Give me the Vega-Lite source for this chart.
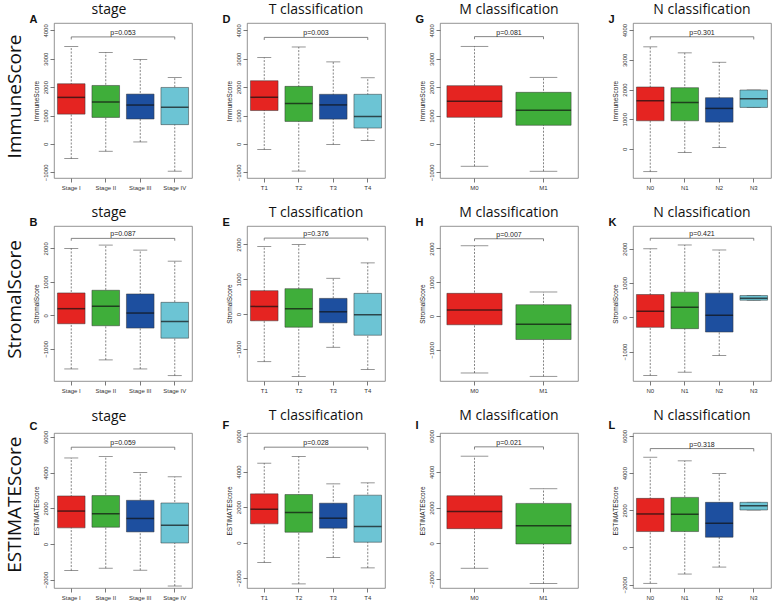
{
"$schema": "https://vega.github.io/schema/vega-lite/v6.json",
"padding": {"left": 5, "top": 2, "right": 0, "bottom": 0},
"background": "white",
"datasets": {
"boxes": [
{"panel":"A","group":"Stage I","min":-515,"q1":1050,"med":1640,"q3":2120,"max":3430},
{"panel":"A","group":"Stage II","min":-258,"q1":935,"med":1475,"q3":2060,"max":3220},
{"panel":"A","group":"Stage III","min":70,"q1":878,"med":1370,"q3":1756,"max":2975},
{"panel":"A","group":"Stage IV","min":-960,"q1":680,"med":1288,"q3":1990,"max":2342},
{"panel":"D","group":"T1","min":-198,"q1":1177,"med":1643,"q3":2226,"max":3042},
{"panel":"D","group":"T2","min":-956,"q1":793,"med":1422,"q3":2028,"max":3415},
{"panel":"D","group":"T3","min":-23,"q1":874,"med":1375,"q3":1748,"max":2890},
{"panel":"D","group":"T4","min":117,"q1":559,"med":967,"q3":1748,"max":2331},
{"panel":"G","group":"M0","min":-786,"q1":938,"med":1501,"q3":2053,"max":3437},
{"panel":"G","group":"M1","min":-962,"q1":657,"med":1185,"q3":1818,"max":2346},
{"panel":"J","group":"N0","min":-766,"q1":946,"med":1622,"q3":2085,"max":3437},
{"panel":"J","group":"N1","min":-124,"q1":946,"med":1566,"q3":2062,"max":3234},
{"panel":"J","group":"N2","min":45,"q1":901,"med":1363,"q3":1724,"max":2918},
{"panel":"J","group":"N3","min":1397,"q1":1397,"med":1690,"q3":1983,"max":1983},
{"panel":"B","group":"Stage I","min":-1600,"q1":-250,"med":200,"q3":670,"max":2000},
{"panel":"B","group":"Stage II","min":-1330,"q1":-310,"med":270,"q3":750,"max":2100},
{"panel":"B","group":"Stage III","min":-1600,"q1":-380,"med":70,"q3":640,"max":1950},
{"panel":"B","group":"Stage IV","min":-1800,"q1":-680,"med":-180,"q3":390,"max":1620},
{"panel":"E","group":"T1","min":-1365,"q1":-192,"med":221,"q3":673,"max":1942},
{"panel":"E","group":"T2","min":-1788,"q1":-375,"med":154,"q3":731,"max":2000},
{"panel":"E","group":"T3","min":-952,"q1":-250,"med":67,"q3":452,"max":1029},
{"panel":"E","group":"T4","min":-1587,"q1":-606,"med":-19,"q3":596,"max":1471},
{"panel":"H","group":"M0","min":-1683,"q1":-257,"med":178,"q3":673,"max":2080},
{"panel":"H","group":"M1","min":-1782,"q1":-693,"med":-238,"q3":337,"max":713},
{"panel":"K","group":"N0","min":-1700,"q1":-293,"med":176,"q3":665,"max":2000},
{"panel":"K","group":"N1","min":-1603,"q1":-332,"med":293,"q3":733,"max":2111},
{"panel":"K","group":"N2","min":-1114,"q1":-430,"med":59,"q3":704,"max":1965},
{"panel":"K","group":"N3","min":499,"q1":499,"med":557,"q3":635,"max":635},
{"panel":"C","group":"Stage I","min":-1488,"q1":904,"med":1846,"q3":2693,"max":4821},
{"panel":"C","group":"Stage II","min":-1356,"q1":942,"med":1695,"q3":2712,"max":4896},
{"panel":"C","group":"Stage III","min":-1469,"q1":678,"med":1431,"q3":2448,"max":4011},
{"panel":"C","group":"Stage IV","min":-2354,"q1":56,"med":1055,"q3":2298,"max":3766},
{"panel":"F","group":"T1","min":-1127,"q1":1052,"med":1878,"q3":2742,"max":4470},
{"panel":"F","group":"T2","min":-2329,"q1":582,"med":1690,"q3":2704,"max":4845},
{"panel":"F","group":"T3","min":-845,"q1":808,"med":1371,"q3":2216,"max":3305},
{"panel":"F","group":"T4","min":-1427,"q1":19,"med":901,"q3":2667,"max":3362},
{"panel":"I","group":"M0","min":-1395,"q1":819,"med":1786,"q3":2660,"max":4874},
{"panel":"I","group":"M1","min":-2251,"q1":-37,"med":986,"q3":2233,"max":3051},
{"panel":"L","group":"N0","min":-1929,"q1":857,"med":1804,"q3":2643,"max":4857},
{"panel":"L","group":"N1","min":-1429,"q1":857,"med":1786,"q3":2696,"max":4661},
{"panel":"L","group":"N2","min":-1054,"q1":554,"med":1304,"q3":2429,"max":3982},
{"panel":"L","group":"N3","min":2018,"q1":2018,"med":2250,"q3":2429,"max":2429}
],
"brackets": [
{"panel":"A","k":1,"group":"Stage I","y":3680},{"panel":"A","k":2,"group":"Stage I","y":3770},{"panel":"A","k":3,"group":"Stage IV","y":3770},{"panel":"A","k":4,"group":"Stage IV","y":3680},
{"panel":"D","k":1,"group":"T1","y":3663},{"panel":"D","k":2,"group":"T1","y":3753},{"panel":"D","k":3,"group":"T4","y":3753},{"panel":"D","k":4,"group":"T4","y":3663},
{"panel":"G","k":1,"group":"M0","y":3690},{"panel":"G","k":2,"group":"M0","y":3780},{"panel":"G","k":3,"group":"M1","y":3780},{"panel":"G","k":4,"group":"M1","y":3690},
{"panel":"J","k":1,"group":"N0","y":3685},{"panel":"J","k":2,"group":"N0","y":3775},{"panel":"J","k":3,"group":"N3","y":3775},{"panel":"J","k":4,"group":"N3","y":3685},
{"panel":"B","k":1,"group":"Stage I","y":2230},{"panel":"B","k":2,"group":"Stage I","y":2300},{"panel":"B","k":3,"group":"Stage IV","y":2300},{"panel":"B","k":4,"group":"Stage IV","y":2230},
{"panel":"E","k":1,"group":"T1","y":2113},{"panel":"E","k":2,"group":"T1","y":2183},{"panel":"E","k":3,"group":"T4","y":2183},{"panel":"E","k":4,"group":"T4","y":2113},
{"panel":"H","k":1,"group":"M0","y":2217},{"panel":"H","k":2,"group":"M0","y":2287},{"panel":"H","k":3,"group":"M1","y":2287},{"panel":"H","k":4,"group":"M1","y":2217},
{"panel":"K","k":1,"group":"N0","y":2237},{"panel":"K","k":2,"group":"N0","y":2307},{"panel":"K","k":3,"group":"N3","y":2307},{"panel":"K","k":4,"group":"N3","y":2237},
{"panel":"C","k":1,"group":"Stage I","y":5274},{"panel":"C","k":2,"group":"Stage I","y":5424},{"panel":"C","k":3,"group":"Stage IV","y":5424},{"panel":"C","k":4,"group":"Stage IV","y":5274},
{"panel":"F","k":1,"group":"T1","y":5221},{"panel":"F","k":2,"group":"T1","y":5371},{"panel":"F","k":3,"group":"T4","y":5371},{"panel":"F","k":4,"group":"T4","y":5221},
{"panel":"I","k":1,"group":"M0","y":5245},{"panel":"I","k":2,"group":"M0","y":5395},{"panel":"I","k":3,"group":"M1","y":5395},{"panel":"I","k":4,"group":"M1","y":5245},
{"panel":"L","k":1,"group":"N0","y":5171},{"panel":"L","k":2,"group":"N0","y":5321},{"panel":"L","k":3,"group":"N3","y":5321},{"panel":"L","k":4,"group":"N3","y":5171}
],
"pvals": [
{"panel":"A","g":"Stage II","p":"p=0.053","b":3770},{"panel":"D","g":"T2","p":"p=0.003","b":3753},{"panel":"G","g":"M0","p":"p=0.081","b":3780},{"panel":"J","g":"N1","p":"p=0.301","b":3775},
{"panel":"B","g":"Stage II","p":"p=0.087","b":2300},{"panel":"E","g":"T2","p":"p=0.376","b":2183},{"panel":"H","g":"M0","p":"p=0.007","b":2287},{"panel":"K","g":"N1","p":"p=0.421","b":2307},
{"panel":"C","g":"Stage II","p":"p=0.059","b":5424},{"panel":"F","g":"T2","p":"p=0.028","b":5371},{"panel":"I","g":"M0","p":"p=0.021","b":5395},{"panel":"L","g":"N1","p":"p=0.318","b":5321}
]
},
"spacing": 14,
"vconcat": [
{"title": {"text": "ImmuneScore", "orient": "left", "fontSize": 19, "font": "Open Sans", "anchor": "middle", "offset": 5},
 "spacing": 29,
 "hconcat": [
{"title": {"text": "A", "anchor": "start", "frame": "bounds", "font": "Liberation Sans", "fontSize": 11, "fontWeight": "bold", "dy": 26, "dx": -3},
 "vconcat": [{"title": {"text": "stage", "offset": 6, "dx": -14}, "width": 138, "height": 155,
  "encoding": {"x": {"field": "group", "type": "nominal", "title": null, "scale": {"domain": ["Stage I","Stage II","Stage III","Stage IV"], "paddingInner": 0.2, "paddingOuter": 0.1}}},
  "layer": [
   {"data": {"name": "boxes"}, "transform": [{"filter": "datum.panel === 'A'"}], "layer": [
    {"mark": {"type": "rule", "strokeDash": [2, 1.5], "color": "#666", "strokeWidth": 0.8}, "encoding": {"y": {"field": "min", "type": "quantitative", "title": "ImmuneScore", "scale": {"domain": [-1200, 4260], "nice": false, "zero": false}, "axis": {"values": [-1000,0,1000,2000,3000,4000], "format": "d"}}, "y2": {"field": "max"}}},
    {"mark": {"type": "tick", "size": 14, "thickness": 0.8, "color": "#444"}, "encoding": {"y": {"field": "min", "type": "quantitative", "title": "ImmuneScore", "scale": {"domain": [-1200, 4260], "nice": false, "zero": false}, "axis": {"values": [-1000,0,1000,2000,3000,4000], "format": "d"}}}},
    {"mark": {"type": "tick", "size": 14, "thickness": 0.8, "color": "#444"}, "encoding": {"y": {"field": "max", "type": "quantitative", "title": "ImmuneScore", "scale": {"domain": [-1200, 4260], "nice": false, "zero": false}, "axis": {"values": [-1000,0,1000,2000,3000,4000], "format": "d"}}}},
    {"mark": {"type": "bar", "stroke": "#333", "strokeWidth": 0.5}, "encoding": {"y": {"field": "q1", "type": "quantitative", "title": "ImmuneScore", "scale": {"domain": [-1200, 4260], "nice": false, "zero": false}, "axis": {"values": [-1000,0,1000,2000,3000,4000], "format": "d"}}, "y2": {"field": "q3"}, "color": {"field": "group", "type": "nominal", "legend": null, "scale": {"domain": ["Stage I","Stage II","Stage III","Stage IV","T1","T2","T3","T4","M0","M1","N0","N1","N2","N3"], "range": ["#E52421","#3FAE3A","#1D4F9F","#6CC4D4","#E52421","#3FAE3A","#1D4F9F","#6CC4D4","#E52421","#3FAE3A","#E52421","#3FAE3A","#1D4F9F","#6CC4D4"]}}}},
    {"mark": {"type": "tick", "size": 27.6, "thickness": 1.5, "color": "#111"}, "encoding": {"y": {"field": "med", "type": "quantitative", "title": "ImmuneScore", "scale": {"domain": [-1200, 4260], "nice": false, "zero": false}, "axis": {"values": [-1000,0,1000,2000,3000,4000], "format": "d"}}}}
   ]},
   {"data": {"name": "brackets"}, "transform": [{"filter": "datum.panel === 'A'"}], "mark": {"type": "line", "color": "#666", "strokeWidth": 0.8}, "encoding": {"y": {"field": "y", "type": "quantitative", "title": "ImmuneScore", "scale": {"domain": [-1200, 4260], "nice": false, "zero": false}, "axis": {"values": [-1000,0,1000,2000,3000,4000], "format": "d"}}, "order": {"field": "k", "type": "quantitative"}}},
   {"data": {"name": "pvals"}, "transform": [{"filter": "datum.panel === 'A'"}], "mark": {"type": "text", "fontSize": 7, "baseline": "bottom", "dy": -1, "color": "#222", "font": "Liberation Sans"}, "encoding": {"x": {"field": "g", "type": "nominal", "bandPosition": 1.125}, "y": {"field": "b", "type": "quantitative", "title": "ImmuneScore", "scale": {"domain": [-1200, 4260], "nice": false, "zero": false}, "axis": {"values": [-1000,0,1000,2000,3000,4000], "format": "d"}}, "text": {"field": "p", "type": "nominal"}}}
  ]}]},
{"title": {"text": "D", "anchor": "start", "frame": "bounds", "font": "Liberation Sans", "fontSize": 11, "fontWeight": "bold", "dy": 26, "dx": -3},
 "vconcat": [{"title": {"text": "T classification", "offset": 6}, "width": 138, "height": 155,
  "encoding": {"x": {"field": "group", "type": "nominal", "title": null, "scale": {"domain": ["T1","T2","T3","T4"], "paddingInner": 0.2, "paddingOuter": 0.1}}},
  "layer": [
   {"data": {"name": "boxes"}, "transform": [{"filter": "datum.panel === 'D'"}], "layer": [
    {"mark": {"type": "rule", "strokeDash": [2, 1.5], "color": "#666", "strokeWidth": 0.8}, "encoding": {"y": {"field": "min", "type": "quantitative", "title": "ImmuneScore", "scale": {"domain": [-1200, 4260], "nice": false, "zero": false}, "axis": {"values": [-1000,0,1000,2000,3000,4000], "format": "d"}}, "y2": {"field": "max"}}},
    {"mark": {"type": "tick", "size": 14, "thickness": 0.8, "color": "#444"}, "encoding": {"y": {"field": "min", "type": "quantitative", "title": "ImmuneScore", "scale": {"domain": [-1200, 4260], "nice": false, "zero": false}, "axis": {"values": [-1000,0,1000,2000,3000,4000], "format": "d"}}}},
    {"mark": {"type": "tick", "size": 14, "thickness": 0.8, "color": "#444"}, "encoding": {"y": {"field": "max", "type": "quantitative", "title": "ImmuneScore", "scale": {"domain": [-1200, 4260], "nice": false, "zero": false}, "axis": {"values": [-1000,0,1000,2000,3000,4000], "format": "d"}}}},
    {"mark": {"type": "bar", "stroke": "#333", "strokeWidth": 0.5}, "encoding": {"y": {"field": "q1", "type": "quantitative", "title": "ImmuneScore", "scale": {"domain": [-1200, 4260], "nice": false, "zero": false}, "axis": {"values": [-1000,0,1000,2000,3000,4000], "format": "d"}}, "y2": {"field": "q3"}, "color": {"field": "group", "type": "nominal", "legend": null, "scale": {"domain": ["Stage I","Stage II","Stage III","Stage IV","T1","T2","T3","T4","M0","M1","N0","N1","N2","N3"], "range": ["#E52421","#3FAE3A","#1D4F9F","#6CC4D4","#E52421","#3FAE3A","#1D4F9F","#6CC4D4","#E52421","#3FAE3A","#E52421","#3FAE3A","#1D4F9F","#6CC4D4"]}}}},
    {"mark": {"type": "tick", "size": 27.6, "thickness": 1.5, "color": "#111"}, "encoding": {"y": {"field": "med", "type": "quantitative", "title": "ImmuneScore", "scale": {"domain": [-1200, 4260], "nice": false, "zero": false}, "axis": {"values": [-1000,0,1000,2000,3000,4000], "format": "d"}}}}
   ]},
   {"data": {"name": "brackets"}, "transform": [{"filter": "datum.panel === 'D'"}], "mark": {"type": "line", "color": "#666", "strokeWidth": 0.8}, "encoding": {"y": {"field": "y", "type": "quantitative", "title": "ImmuneScore", "scale": {"domain": [-1200, 4260], "nice": false, "zero": false}, "axis": {"values": [-1000,0,1000,2000,3000,4000], "format": "d"}}, "order": {"field": "k", "type": "quantitative"}}},
   {"data": {"name": "pvals"}, "transform": [{"filter": "datum.panel === 'D'"}], "mark": {"type": "text", "fontSize": 7, "baseline": "bottom", "dy": -1, "color": "#222", "font": "Liberation Sans"}, "encoding": {"x": {"field": "g", "type": "nominal", "bandPosition": 1.125}, "y": {"field": "b", "type": "quantitative", "title": "ImmuneScore", "scale": {"domain": [-1200, 4260], "nice": false, "zero": false}, "axis": {"values": [-1000,0,1000,2000,3000,4000], "format": "d"}}, "text": {"field": "p", "type": "nominal"}}}
  ]}]},
{"title": {"text": "G", "anchor": "start", "frame": "bounds", "font": "Liberation Sans", "fontSize": 11, "fontWeight": "bold", "dy": 26, "dx": -3},
 "vconcat": [{"title": {"text": "M classification", "offset": 6}, "width": 138, "height": 155,
  "encoding": {"x": {"field": "group", "type": "nominal", "title": null, "scale": {"domain": ["M0","M1"], "paddingInner": 0.2, "paddingOuter": 0.1}}},
  "layer": [
   {"data": {"name": "boxes"}, "transform": [{"filter": "datum.panel === 'G'"}], "layer": [
    {"mark": {"type": "rule", "strokeDash": [2, 1.5], "color": "#666", "strokeWidth": 0.8}, "encoding": {"y": {"field": "min", "type": "quantitative", "title": "ImmuneScore", "scale": {"domain": [-1200, 4260], "nice": false, "zero": false}, "axis": {"values": [-1000,0,1000,2000,3000,4000], "format": "d"}}, "y2": {"field": "max"}}},
    {"mark": {"type": "tick", "size": 27.6, "thickness": 0.8, "color": "#444"}, "encoding": {"y": {"field": "min", "type": "quantitative", "title": "ImmuneScore", "scale": {"domain": [-1200, 4260], "nice": false, "zero": false}, "axis": {"values": [-1000,0,1000,2000,3000,4000], "format": "d"}}}},
    {"mark": {"type": "tick", "size": 27.6, "thickness": 0.8, "color": "#444"}, "encoding": {"y": {"field": "max", "type": "quantitative", "title": "ImmuneScore", "scale": {"domain": [-1200, 4260], "nice": false, "zero": false}, "axis": {"values": [-1000,0,1000,2000,3000,4000], "format": "d"}}}},
    {"mark": {"type": "bar", "stroke": "#333", "strokeWidth": 0.5}, "encoding": {"y": {"field": "q1", "type": "quantitative", "title": "ImmuneScore", "scale": {"domain": [-1200, 4260], "nice": false, "zero": false}, "axis": {"values": [-1000,0,1000,2000,3000,4000], "format": "d"}}, "y2": {"field": "q3"}, "color": {"field": "group", "type": "nominal", "legend": null, "scale": {"domain": ["Stage I","Stage II","Stage III","Stage IV","T1","T2","T3","T4","M0","M1","N0","N1","N2","N3"], "range": ["#E52421","#3FAE3A","#1D4F9F","#6CC4D4","#E52421","#3FAE3A","#1D4F9F","#6CC4D4","#E52421","#3FAE3A","#E52421","#3FAE3A","#1D4F9F","#6CC4D4"]}}}},
    {"mark": {"type": "tick", "size": 55.2, "thickness": 1.5, "color": "#111"}, "encoding": {"y": {"field": "med", "type": "quantitative", "title": "ImmuneScore", "scale": {"domain": [-1200, 4260], "nice": false, "zero": false}, "axis": {"values": [-1000,0,1000,2000,3000,4000], "format": "d"}}}}
   ]},
   {"data": {"name": "brackets"}, "transform": [{"filter": "datum.panel === 'G'"}], "mark": {"type": "line", "color": "#666", "strokeWidth": 0.8}, "encoding": {"y": {"field": "y", "type": "quantitative", "title": "ImmuneScore", "scale": {"domain": [-1200, 4260], "nice": false, "zero": false}, "axis": {"values": [-1000,0,1000,2000,3000,4000], "format": "d"}}, "order": {"field": "k", "type": "quantitative"}}},
   {"data": {"name": "pvals"}, "transform": [{"filter": "datum.panel === 'G'"}], "mark": {"type": "text", "fontSize": 7, "baseline": "bottom", "dy": -1, "color": "#222", "font": "Liberation Sans"}, "encoding": {"x": {"field": "g", "type": "nominal", "bandPosition": 1.125}, "y": {"field": "b", "type": "quantitative", "title": "ImmuneScore", "scale": {"domain": [-1200, 4260], "nice": false, "zero": false}, "axis": {"values": [-1000,0,1000,2000,3000,4000], "format": "d"}}, "text": {"field": "p", "type": "nominal"}}}
  ]}]},
{"title": {"text": "J", "anchor": "start", "frame": "bounds", "font": "Liberation Sans", "fontSize": 11, "fontWeight": "bold", "dy": 26, "dx": -3},
 "vconcat": [{"title": {"text": "N classification", "offset": 6}, "width": 138, "height": 155,
  "encoding": {"x": {"field": "group", "type": "nominal", "title": null, "scale": {"domain": ["N0","N1","N2","N3"], "paddingInner": 0.2, "paddingOuter": 0.1}}},
  "layer": [
   {"data": {"name": "boxes"}, "transform": [{"filter": "datum.panel === 'J'"}], "layer": [
    {"mark": {"type": "rule", "strokeDash": [2, 1.5], "color": "#666", "strokeWidth": 0.8}, "encoding": {"y": {"field": "min", "type": "quantitative", "title": "ImmuneScore", "scale": {"domain": [-980, 4240], "nice": false, "zero": false}, "axis": {"values": [0,1000,2000,3000,4000], "format": "d"}}, "y2": {"field": "max"}}},
    {"mark": {"type": "tick", "size": 14, "thickness": 0.8, "color": "#444"}, "encoding": {"y": {"field": "min", "type": "quantitative", "title": "ImmuneScore", "scale": {"domain": [-980, 4240], "nice": false, "zero": false}, "axis": {"values": [0,1000,2000,3000,4000], "format": "d"}}}},
    {"mark": {"type": "tick", "size": 14, "thickness": 0.8, "color": "#444"}, "encoding": {"y": {"field": "max", "type": "quantitative", "title": "ImmuneScore", "scale": {"domain": [-980, 4240], "nice": false, "zero": false}, "axis": {"values": [0,1000,2000,3000,4000], "format": "d"}}}},
    {"mark": {"type": "bar", "stroke": "#333", "strokeWidth": 0.5}, "encoding": {"y": {"field": "q1", "type": "quantitative", "title": "ImmuneScore", "scale": {"domain": [-980, 4240], "nice": false, "zero": false}, "axis": {"values": [0,1000,2000,3000,4000], "format": "d"}}, "y2": {"field": "q3"}, "color": {"field": "group", "type": "nominal", "legend": null, "scale": {"domain": ["Stage I","Stage II","Stage III","Stage IV","T1","T2","T3","T4","M0","M1","N0","N1","N2","N3"], "range": ["#E52421","#3FAE3A","#1D4F9F","#6CC4D4","#E52421","#3FAE3A","#1D4F9F","#6CC4D4","#E52421","#3FAE3A","#E52421","#3FAE3A","#1D4F9F","#6CC4D4"]}}}},
    {"mark": {"type": "tick", "size": 27.6, "thickness": 1.5, "color": "#111"}, "encoding": {"y": {"field": "med", "type": "quantitative", "title": "ImmuneScore", "scale": {"domain": [-980, 4240], "nice": false, "zero": false}, "axis": {"values": [0,1000,2000,3000,4000], "format": "d"}}}}
   ]},
   {"data": {"name": "brackets"}, "transform": [{"filter": "datum.panel === 'J'"}], "mark": {"type": "line", "color": "#666", "strokeWidth": 0.8}, "encoding": {"y": {"field": "y", "type": "quantitative", "title": "ImmuneScore", "scale": {"domain": [-980, 4240], "nice": false, "zero": false}, "axis": {"values": [0,1000,2000,3000,4000], "format": "d"}}, "order": {"field": "k", "type": "quantitative"}}},
   {"data": {"name": "pvals"}, "transform": [{"filter": "datum.panel === 'J'"}], "mark": {"type": "text", "fontSize": 7, "baseline": "bottom", "dy": -1, "color": "#222", "font": "Liberation Sans"}, "encoding": {"x": {"field": "g", "type": "nominal", "bandPosition": 1.125}, "y": {"field": "b", "type": "quantitative", "title": "ImmuneScore", "scale": {"domain": [-980, 4240], "nice": false, "zero": false}, "axis": {"values": [0,1000,2000,3000,4000], "format": "d"}}, "text": {"field": "p", "type": "nominal"}}}
  ]}]}
 ]},
{"title": {"text": "StromalScore", "orient": "left", "fontSize": 19, "font": "Open Sans", "anchor": "middle", "offset": 5},
 "spacing": 29,
 "hconcat": [
{"title": {"text": "B", "anchor": "start", "frame": "bounds", "font": "Liberation Sans", "fontSize": 11, "fontWeight": "bold", "dy": 26, "dx": -3},
 "vconcat": [{"title": {"text": "stage", "offset": 6, "dx": -14}, "width": 138, "height": 155,
  "encoding": {"x": {"field": "group", "type": "nominal", "title": null, "scale": {"domain": ["Stage I","Stage II","Stage III","Stage IV"], "paddingInner": 0.2, "paddingOuter": 0.1}}},
  "layer": [
   {"data": {"name": "boxes"}, "transform": [{"filter": "datum.panel === 'B'"}], "layer": [
    {"mark": {"type": "rule", "strokeDash": [2, 1.5], "color": "#666", "strokeWidth": 0.8}, "encoding": {"y": {"field": "min", "type": "quantitative", "title": "StromalScore", "scale": {"domain": [-1960, 2670], "nice": false, "zero": false}, "axis": {"values": [-1000,0,1000,2000], "format": "d"}}, "y2": {"field": "max"}}},
    {"mark": {"type": "tick", "size": 14, "thickness": 0.8, "color": "#444"}, "encoding": {"y": {"field": "min", "type": "quantitative", "title": "StromalScore", "scale": {"domain": [-1960, 2670], "nice": false, "zero": false}, "axis": {"values": [-1000,0,1000,2000], "format": "d"}}}},
    {"mark": {"type": "tick", "size": 14, "thickness": 0.8, "color": "#444"}, "encoding": {"y": {"field": "max", "type": "quantitative", "title": "StromalScore", "scale": {"domain": [-1960, 2670], "nice": false, "zero": false}, "axis": {"values": [-1000,0,1000,2000], "format": "d"}}}},
    {"mark": {"type": "bar", "stroke": "#333", "strokeWidth": 0.5}, "encoding": {"y": {"field": "q1", "type": "quantitative", "title": "StromalScore", "scale": {"domain": [-1960, 2670], "nice": false, "zero": false}, "axis": {"values": [-1000,0,1000,2000], "format": "d"}}, "y2": {"field": "q3"}, "color": {"field": "group", "type": "nominal", "legend": null, "scale": {"domain": ["Stage I","Stage II","Stage III","Stage IV","T1","T2","T3","T4","M0","M1","N0","N1","N2","N3"], "range": ["#E52421","#3FAE3A","#1D4F9F","#6CC4D4","#E52421","#3FAE3A","#1D4F9F","#6CC4D4","#E52421","#3FAE3A","#E52421","#3FAE3A","#1D4F9F","#6CC4D4"]}}}},
    {"mark": {"type": "tick", "size": 27.6, "thickness": 1.5, "color": "#111"}, "encoding": {"y": {"field": "med", "type": "quantitative", "title": "StromalScore", "scale": {"domain": [-1960, 2670], "nice": false, "zero": false}, "axis": {"values": [-1000,0,1000,2000], "format": "d"}}}}
   ]},
   {"data": {"name": "brackets"}, "transform": [{"filter": "datum.panel === 'B'"}], "mark": {"type": "line", "color": "#666", "strokeWidth": 0.8}, "encoding": {"y": {"field": "y", "type": "quantitative", "title": "StromalScore", "scale": {"domain": [-1960, 2670], "nice": false, "zero": false}, "axis": {"values": [-1000,0,1000,2000], "format": "d"}}, "order": {"field": "k", "type": "quantitative"}}},
   {"data": {"name": "pvals"}, "transform": [{"filter": "datum.panel === 'B'"}], "mark": {"type": "text", "fontSize": 7, "baseline": "bottom", "dy": -1, "color": "#222", "font": "Liberation Sans"}, "encoding": {"x": {"field": "g", "type": "nominal", "bandPosition": 1.125}, "y": {"field": "b", "type": "quantitative", "title": "StromalScore", "scale": {"domain": [-1960, 2670], "nice": false, "zero": false}, "axis": {"values": [-1000,0,1000,2000], "format": "d"}}, "text": {"field": "p", "type": "nominal"}}}
  ]}]},
{"title": {"text": "E", "anchor": "start", "frame": "bounds", "font": "Liberation Sans", "fontSize": 11, "fontWeight": "bold", "dy": 26, "dx": -3},
 "vconcat": [{"title": {"text": "T classification", "offset": 6}, "width": 138, "height": 155,
  "encoding": {"x": {"field": "group", "type": "nominal", "title": null, "scale": {"domain": ["T1","T2","T3","T4"], "paddingInner": 0.2, "paddingOuter": 0.1}}},
  "layer": [
   {"data": {"name": "boxes"}, "transform": [{"filter": "datum.panel === 'E'"}], "layer": [
    {"mark": {"type": "rule", "strokeDash": [2, 1.5], "color": "#666", "strokeWidth": 0.8}, "encoding": {"y": {"field": "min", "type": "quantitative", "title": "StromalScore", "scale": {"domain": [-1920, 2530], "nice": false, "zero": false}, "axis": {"values": [-1000,0,1000,2000], "format": "d"}}, "y2": {"field": "max"}}},
    {"mark": {"type": "tick", "size": 14, "thickness": 0.8, "color": "#444"}, "encoding": {"y": {"field": "min", "type": "quantitative", "title": "StromalScore", "scale": {"domain": [-1920, 2530], "nice": false, "zero": false}, "axis": {"values": [-1000,0,1000,2000], "format": "d"}}}},
    {"mark": {"type": "tick", "size": 14, "thickness": 0.8, "color": "#444"}, "encoding": {"y": {"field": "max", "type": "quantitative", "title": "StromalScore", "scale": {"domain": [-1920, 2530], "nice": false, "zero": false}, "axis": {"values": [-1000,0,1000,2000], "format": "d"}}}},
    {"mark": {"type": "bar", "stroke": "#333", "strokeWidth": 0.5}, "encoding": {"y": {"field": "q1", "type": "quantitative", "title": "StromalScore", "scale": {"domain": [-1920, 2530], "nice": false, "zero": false}, "axis": {"values": [-1000,0,1000,2000], "format": "d"}}, "y2": {"field": "q3"}, "color": {"field": "group", "type": "nominal", "legend": null, "scale": {"domain": ["Stage I","Stage II","Stage III","Stage IV","T1","T2","T3","T4","M0","M1","N0","N1","N2","N3"], "range": ["#E52421","#3FAE3A","#1D4F9F","#6CC4D4","#E52421","#3FAE3A","#1D4F9F","#6CC4D4","#E52421","#3FAE3A","#E52421","#3FAE3A","#1D4F9F","#6CC4D4"]}}}},
    {"mark": {"type": "tick", "size": 27.6, "thickness": 1.5, "color": "#111"}, "encoding": {"y": {"field": "med", "type": "quantitative", "title": "StromalScore", "scale": {"domain": [-1920, 2530], "nice": false, "zero": false}, "axis": {"values": [-1000,0,1000,2000], "format": "d"}}}}
   ]},
   {"data": {"name": "brackets"}, "transform": [{"filter": "datum.panel === 'E'"}], "mark": {"type": "line", "color": "#666", "strokeWidth": 0.8}, "encoding": {"y": {"field": "y", "type": "quantitative", "title": "StromalScore", "scale": {"domain": [-1920, 2530], "nice": false, "zero": false}, "axis": {"values": [-1000,0,1000,2000], "format": "d"}}, "order": {"field": "k", "type": "quantitative"}}},
   {"data": {"name": "pvals"}, "transform": [{"filter": "datum.panel === 'E'"}], "mark": {"type": "text", "fontSize": 7, "baseline": "bottom", "dy": -1, "color": "#222", "font": "Liberation Sans"}, "encoding": {"x": {"field": "g", "type": "nominal", "bandPosition": 1.125}, "y": {"field": "b", "type": "quantitative", "title": "StromalScore", "scale": {"domain": [-1920, 2530], "nice": false, "zero": false}, "axis": {"values": [-1000,0,1000,2000], "format": "d"}}, "text": {"field": "p", "type": "nominal"}}}
  ]}]},
{"title": {"text": "H", "anchor": "start", "frame": "bounds", "font": "Liberation Sans", "fontSize": 11, "fontWeight": "bold", "dy": 26, "dx": -3},
 "vconcat": [{"title": {"text": "M classification", "offset": 6}, "width": 138, "height": 155,
  "encoding": {"x": {"field": "group", "type": "nominal", "title": null, "scale": {"domain": ["M0","M1"], "paddingInner": 0.2, "paddingOuter": 0.1}}},
  "layer": [
   {"data": {"name": "boxes"}, "transform": [{"filter": "datum.panel === 'H'"}], "layer": [
    {"mark": {"type": "rule", "strokeDash": [2, 1.5], "color": "#666", "strokeWidth": 0.8}, "encoding": {"y": {"field": "min", "type": "quantitative", "title": "StromalScore", "scale": {"domain": [-1920, 2665], "nice": false, "zero": false}, "axis": {"values": [-1000,0,1000,2000], "format": "d"}}, "y2": {"field": "max"}}},
    {"mark": {"type": "tick", "size": 27.6, "thickness": 0.8, "color": "#444"}, "encoding": {"y": {"field": "min", "type": "quantitative", "title": "StromalScore", "scale": {"domain": [-1920, 2665], "nice": false, "zero": false}, "axis": {"values": [-1000,0,1000,2000], "format": "d"}}}},
    {"mark": {"type": "tick", "size": 27.6, "thickness": 0.8, "color": "#444"}, "encoding": {"y": {"field": "max", "type": "quantitative", "title": "StromalScore", "scale": {"domain": [-1920, 2665], "nice": false, "zero": false}, "axis": {"values": [-1000,0,1000,2000], "format": "d"}}}},
    {"mark": {"type": "bar", "stroke": "#333", "strokeWidth": 0.5}, "encoding": {"y": {"field": "q1", "type": "quantitative", "title": "StromalScore", "scale": {"domain": [-1920, 2665], "nice": false, "zero": false}, "axis": {"values": [-1000,0,1000,2000], "format": "d"}}, "y2": {"field": "q3"}, "color": {"field": "group", "type": "nominal", "legend": null, "scale": {"domain": ["Stage I","Stage II","Stage III","Stage IV","T1","T2","T3","T4","M0","M1","N0","N1","N2","N3"], "range": ["#E52421","#3FAE3A","#1D4F9F","#6CC4D4","#E52421","#3FAE3A","#1D4F9F","#6CC4D4","#E52421","#3FAE3A","#E52421","#3FAE3A","#1D4F9F","#6CC4D4"]}}}},
    {"mark": {"type": "tick", "size": 55.2, "thickness": 1.5, "color": "#111"}, "encoding": {"y": {"field": "med", "type": "quantitative", "title": "StromalScore", "scale": {"domain": [-1920, 2665], "nice": false, "zero": false}, "axis": {"values": [-1000,0,1000,2000], "format": "d"}}}}
   ]},
   {"data": {"name": "brackets"}, "transform": [{"filter": "datum.panel === 'H'"}], "mark": {"type": "line", "color": "#666", "strokeWidth": 0.8}, "encoding": {"y": {"field": "y", "type": "quantitative", "title": "StromalScore", "scale": {"domain": [-1920, 2665], "nice": false, "zero": false}, "axis": {"values": [-1000,0,1000,2000], "format": "d"}}, "order": {"field": "k", "type": "quantitative"}}},
   {"data": {"name": "pvals"}, "transform": [{"filter": "datum.panel === 'H'"}], "mark": {"type": "text", "fontSize": 7, "baseline": "bottom", "dy": -1, "color": "#222", "font": "Liberation Sans"}, "encoding": {"x": {"field": "g", "type": "nominal", "bandPosition": 1.125}, "y": {"field": "b", "type": "quantitative", "title": "StromalScore", "scale": {"domain": [-1920, 2665], "nice": false, "zero": false}, "axis": {"values": [-1000,0,1000,2000], "format": "d"}}, "text": {"field": "p", "type": "nominal"}}}
  ]}]},
{"title": {"text": "K", "anchor": "start", "frame": "bounds", "font": "Liberation Sans", "fontSize": 11, "fontWeight": "bold", "dy": 26, "dx": -3},
 "vconcat": [{"title": {"text": "N classification", "offset": 6}, "width": 138, "height": 155,
  "encoding": {"x": {"field": "group", "type": "nominal", "title": null, "scale": {"domain": ["N0","N1","N2","N3"], "paddingInner": 0.2, "paddingOuter": 0.1}}},
  "layer": [
   {"data": {"name": "boxes"}, "transform": [{"filter": "datum.panel === 'K'"}], "layer": [
    {"mark": {"type": "rule", "strokeDash": [2, 1.5], "color": "#666", "strokeWidth": 0.8}, "encoding": {"y": {"field": "min", "type": "quantitative", "title": "StromalScore", "scale": {"domain": [-1860, 2665], "nice": false, "zero": false}, "axis": {"values": [-1000,0,1000,2000], "format": "d"}}, "y2": {"field": "max"}}},
    {"mark": {"type": "tick", "size": 14, "thickness": 0.8, "color": "#444"}, "encoding": {"y": {"field": "min", "type": "quantitative", "title": "StromalScore", "scale": {"domain": [-1860, 2665], "nice": false, "zero": false}, "axis": {"values": [-1000,0,1000,2000], "format": "d"}}}},
    {"mark": {"type": "tick", "size": 14, "thickness": 0.8, "color": "#444"}, "encoding": {"y": {"field": "max", "type": "quantitative", "title": "StromalScore", "scale": {"domain": [-1860, 2665], "nice": false, "zero": false}, "axis": {"values": [-1000,0,1000,2000], "format": "d"}}}},
    {"mark": {"type": "bar", "stroke": "#333", "strokeWidth": 0.5}, "encoding": {"y": {"field": "q1", "type": "quantitative", "title": "StromalScore", "scale": {"domain": [-1860, 2665], "nice": false, "zero": false}, "axis": {"values": [-1000,0,1000,2000], "format": "d"}}, "y2": {"field": "q3"}, "color": {"field": "group", "type": "nominal", "legend": null, "scale": {"domain": ["Stage I","Stage II","Stage III","Stage IV","T1","T2","T3","T4","M0","M1","N0","N1","N2","N3"], "range": ["#E52421","#3FAE3A","#1D4F9F","#6CC4D4","#E52421","#3FAE3A","#1D4F9F","#6CC4D4","#E52421","#3FAE3A","#E52421","#3FAE3A","#1D4F9F","#6CC4D4"]}}}},
    {"mark": {"type": "tick", "size": 27.6, "thickness": 1.5, "color": "#111"}, "encoding": {"y": {"field": "med", "type": "quantitative", "title": "StromalScore", "scale": {"domain": [-1860, 2665], "nice": false, "zero": false}, "axis": {"values": [-1000,0,1000,2000], "format": "d"}}}}
   ]},
   {"data": {"name": "brackets"}, "transform": [{"filter": "datum.panel === 'K'"}], "mark": {"type": "line", "color": "#666", "strokeWidth": 0.8}, "encoding": {"y": {"field": "y", "type": "quantitative", "title": "StromalScore", "scale": {"domain": [-1860, 2665], "nice": false, "zero": false}, "axis": {"values": [-1000,0,1000,2000], "format": "d"}}, "order": {"field": "k", "type": "quantitative"}}},
   {"data": {"name": "pvals"}, "transform": [{"filter": "datum.panel === 'K'"}], "mark": {"type": "text", "fontSize": 7, "baseline": "bottom", "dy": -1, "color": "#222", "font": "Liberation Sans"}, "encoding": {"x": {"field": "g", "type": "nominal", "bandPosition": 1.125}, "y": {"field": "b", "type": "quantitative", "title": "StromalScore", "scale": {"domain": [-1860, 2665], "nice": false, "zero": false}, "axis": {"values": [-1000,0,1000,2000], "format": "d"}}, "text": {"field": "p", "type": "nominal"}}}
  ]}]}
 ]},
{"title": {"text": "ESTIMATEScore", "orient": "left", "fontSize": 19, "font": "Open Sans", "anchor": "middle", "offset": 5},
 "spacing": 29,
 "hconcat": [
{"title": {"text": "C", "anchor": "start", "frame": "bounds", "font": "Liberation Sans", "fontSize": 11, "fontWeight": "bold", "dy": 26, "dx": -3},
 "vconcat": [{"title": {"text": "stage", "offset": 6, "dx": -14}, "width": 138, "height": 155,
  "encoding": {"x": {"field": "group", "type": "nominal", "title": null, "scale": {"domain": ["Stage I","Stage II","Stage III","Stage IV"], "paddingInner": 0.2, "paddingOuter": 0.1}}},
  "layer": [
   {"data": {"name": "boxes"}, "transform": [{"filter": "datum.panel === 'C'"}], "layer": [
    {"mark": {"type": "rule", "strokeDash": [2, 1.5], "color": "#666", "strokeWidth": 0.8}, "encoding": {"y": {"field": "min", "type": "quantitative", "title": "ESTIMATEScore", "scale": {"domain": [-2465, 6220], "nice": false, "zero": false}, "axis": {"values": [-2000,0,2000,4000,6000], "format": "d"}}, "y2": {"field": "max"}}},
    {"mark": {"type": "tick", "size": 14, "thickness": 0.8, "color": "#444"}, "encoding": {"y": {"field": "min", "type": "quantitative", "title": "ESTIMATEScore", "scale": {"domain": [-2465, 6220], "nice": false, "zero": false}, "axis": {"values": [-2000,0,2000,4000,6000], "format": "d"}}}},
    {"mark": {"type": "tick", "size": 14, "thickness": 0.8, "color": "#444"}, "encoding": {"y": {"field": "max", "type": "quantitative", "title": "ESTIMATEScore", "scale": {"domain": [-2465, 6220], "nice": false, "zero": false}, "axis": {"values": [-2000,0,2000,4000,6000], "format": "d"}}}},
    {"mark": {"type": "bar", "stroke": "#333", "strokeWidth": 0.5}, "encoding": {"y": {"field": "q1", "type": "quantitative", "title": "ESTIMATEScore", "scale": {"domain": [-2465, 6220], "nice": false, "zero": false}, "axis": {"values": [-2000,0,2000,4000,6000], "format": "d"}}, "y2": {"field": "q3"}, "color": {"field": "group", "type": "nominal", "legend": null, "scale": {"domain": ["Stage I","Stage II","Stage III","Stage IV","T1","T2","T3","T4","M0","M1","N0","N1","N2","N3"], "range": ["#E52421","#3FAE3A","#1D4F9F","#6CC4D4","#E52421","#3FAE3A","#1D4F9F","#6CC4D4","#E52421","#3FAE3A","#E52421","#3FAE3A","#1D4F9F","#6CC4D4"]}}}},
    {"mark": {"type": "tick", "size": 27.6, "thickness": 1.5, "color": "#111"}, "encoding": {"y": {"field": "med", "type": "quantitative", "title": "ESTIMATEScore", "scale": {"domain": [-2465, 6220], "nice": false, "zero": false}, "axis": {"values": [-2000,0,2000,4000,6000], "format": "d"}}}}
   ]},
   {"data": {"name": "brackets"}, "transform": [{"filter": "datum.panel === 'C'"}], "mark": {"type": "line", "color": "#666", "strokeWidth": 0.8}, "encoding": {"y": {"field": "y", "type": "quantitative", "title": "ESTIMATEScore", "scale": {"domain": [-2465, 6220], "nice": false, "zero": false}, "axis": {"values": [-2000,0,2000,4000,6000], "format": "d"}}, "order": {"field": "k", "type": "quantitative"}}},
   {"data": {"name": "pvals"}, "transform": [{"filter": "datum.panel === 'C'"}], "mark": {"type": "text", "fontSize": 7, "baseline": "bottom", "dy": -1, "color": "#222", "font": "Liberation Sans"}, "encoding": {"x": {"field": "g", "type": "nominal", "bandPosition": 1.125}, "y": {"field": "b", "type": "quantitative", "title": "ESTIMATEScore", "scale": {"domain": [-2465, 6220], "nice": false, "zero": false}, "axis": {"values": [-2000,0,2000,4000,6000], "format": "d"}}, "text": {"field": "p", "type": "nominal"}}}
  ]}]},
{"title": {"text": "F", "anchor": "start", "frame": "bounds", "font": "Liberation Sans", "fontSize": 11, "fontWeight": "bold", "dy": 26, "dx": -3},
 "vconcat": [{"title": {"text": "T classification", "offset": 6}, "width": 138, "height": 155,
  "encoding": {"x": {"field": "group", "type": "nominal", "title": null, "scale": {"domain": ["T1","T2","T3","T4"], "paddingInner": 0.2, "paddingOuter": 0.1}}},
  "layer": [
   {"data": {"name": "boxes"}, "transform": [{"filter": "datum.panel === 'F'"}], "layer": [
    {"mark": {"type": "rule", "strokeDash": [2, 1.5], "color": "#666", "strokeWidth": 0.8}, "encoding": {"y": {"field": "min", "type": "quantitative", "title": "ESTIMATEScore", "scale": {"domain": [-2560, 6170], "nice": false, "zero": false}, "axis": {"values": [-2000,0,2000,4000,6000], "format": "d"}}, "y2": {"field": "max"}}},
    {"mark": {"type": "tick", "size": 14, "thickness": 0.8, "color": "#444"}, "encoding": {"y": {"field": "min", "type": "quantitative", "title": "ESTIMATEScore", "scale": {"domain": [-2560, 6170], "nice": false, "zero": false}, "axis": {"values": [-2000,0,2000,4000,6000], "format": "d"}}}},
    {"mark": {"type": "tick", "size": 14, "thickness": 0.8, "color": "#444"}, "encoding": {"y": {"field": "max", "type": "quantitative", "title": "ESTIMATEScore", "scale": {"domain": [-2560, 6170], "nice": false, "zero": false}, "axis": {"values": [-2000,0,2000,4000,6000], "format": "d"}}}},
    {"mark": {"type": "bar", "stroke": "#333", "strokeWidth": 0.5}, "encoding": {"y": {"field": "q1", "type": "quantitative", "title": "ESTIMATEScore", "scale": {"domain": [-2560, 6170], "nice": false, "zero": false}, "axis": {"values": [-2000,0,2000,4000,6000], "format": "d"}}, "y2": {"field": "q3"}, "color": {"field": "group", "type": "nominal", "legend": null, "scale": {"domain": ["Stage I","Stage II","Stage III","Stage IV","T1","T2","T3","T4","M0","M1","N0","N1","N2","N3"], "range": ["#E52421","#3FAE3A","#1D4F9F","#6CC4D4","#E52421","#3FAE3A","#1D4F9F","#6CC4D4","#E52421","#3FAE3A","#E52421","#3FAE3A","#1D4F9F","#6CC4D4"]}}}},
    {"mark": {"type": "tick", "size": 27.6, "thickness": 1.5, "color": "#111"}, "encoding": {"y": {"field": "med", "type": "quantitative", "title": "ESTIMATEScore", "scale": {"domain": [-2560, 6170], "nice": false, "zero": false}, "axis": {"values": [-2000,0,2000,4000,6000], "format": "d"}}}}
   ]},
   {"data": {"name": "brackets"}, "transform": [{"filter": "datum.panel === 'F'"}], "mark": {"type": "line", "color": "#666", "strokeWidth": 0.8}, "encoding": {"y": {"field": "y", "type": "quantitative", "title": "ESTIMATEScore", "scale": {"domain": [-2560, 6170], "nice": false, "zero": false}, "axis": {"values": [-2000,0,2000,4000,6000], "format": "d"}}, "order": {"field": "k", "type": "quantitative"}}},
   {"data": {"name": "pvals"}, "transform": [{"filter": "datum.panel === 'F'"}], "mark": {"type": "text", "fontSize": 7, "baseline": "bottom", "dy": -1, "color": "#222", "font": "Liberation Sans"}, "encoding": {"x": {"field": "g", "type": "nominal", "bandPosition": 1.125}, "y": {"field": "b", "type": "quantitative", "title": "ESTIMATEScore", "scale": {"domain": [-2560, 6170], "nice": false, "zero": false}, "axis": {"values": [-2000,0,2000,4000,6000], "format": "d"}}, "text": {"field": "p", "type": "nominal"}}}
  ]}]},
{"title": {"text": "I", "anchor": "start", "frame": "bounds", "font": "Liberation Sans", "fontSize": 11, "fontWeight": "bold", "dy": 26, "dx": -3},
 "vconcat": [{"title": {"text": "M classification", "offset": 6}, "width": 138, "height": 155,
  "encoding": {"x": {"field": "group", "type": "nominal", "title": null, "scale": {"domain": ["M0","M1"], "paddingInner": 0.2, "paddingOuter": 0.1}}},
  "layer": [
   {"data": {"name": "boxes"}, "transform": [{"filter": "datum.panel === 'I'"}], "layer": [
    {"mark": {"type": "rule", "strokeDash": [2, 1.5], "color": "#666", "strokeWidth": 0.8}, "encoding": {"y": {"field": "min", "type": "quantitative", "title": "ESTIMATEScore", "scale": {"domain": [-2500, 6170], "nice": false, "zero": false}, "axis": {"values": [-2000,0,2000,4000,6000], "format": "d"}}, "y2": {"field": "max"}}},
    {"mark": {"type": "tick", "size": 27.6, "thickness": 0.8, "color": "#444"}, "encoding": {"y": {"field": "min", "type": "quantitative", "title": "ESTIMATEScore", "scale": {"domain": [-2500, 6170], "nice": false, "zero": false}, "axis": {"values": [-2000,0,2000,4000,6000], "format": "d"}}}},
    {"mark": {"type": "tick", "size": 27.6, "thickness": 0.8, "color": "#444"}, "encoding": {"y": {"field": "max", "type": "quantitative", "title": "ESTIMATEScore", "scale": {"domain": [-2500, 6170], "nice": false, "zero": false}, "axis": {"values": [-2000,0,2000,4000,6000], "format": "d"}}}},
    {"mark": {"type": "bar", "stroke": "#333", "strokeWidth": 0.5}, "encoding": {"y": {"field": "q1", "type": "quantitative", "title": "ESTIMATEScore", "scale": {"domain": [-2500, 6170], "nice": false, "zero": false}, "axis": {"values": [-2000,0,2000,4000,6000], "format": "d"}}, "y2": {"field": "q3"}, "color": {"field": "group", "type": "nominal", "legend": null, "scale": {"domain": ["Stage I","Stage II","Stage III","Stage IV","T1","T2","T3","T4","M0","M1","N0","N1","N2","N3"], "range": ["#E52421","#3FAE3A","#1D4F9F","#6CC4D4","#E52421","#3FAE3A","#1D4F9F","#6CC4D4","#E52421","#3FAE3A","#E52421","#3FAE3A","#1D4F9F","#6CC4D4"]}}}},
    {"mark": {"type": "tick", "size": 55.2, "thickness": 1.5, "color": "#111"}, "encoding": {"y": {"field": "med", "type": "quantitative", "title": "ESTIMATEScore", "scale": {"domain": [-2500, 6170], "nice": false, "zero": false}, "axis": {"values": [-2000,0,2000,4000,6000], "format": "d"}}}}
   ]},
   {"data": {"name": "brackets"}, "transform": [{"filter": "datum.panel === 'I'"}], "mark": {"type": "line", "color": "#666", "strokeWidth": 0.8}, "encoding": {"y": {"field": "y", "type": "quantitative", "title": "ESTIMATEScore", "scale": {"domain": [-2500, 6170], "nice": false, "zero": false}, "axis": {"values": [-2000,0,2000,4000,6000], "format": "d"}}, "order": {"field": "k", "type": "quantitative"}}},
   {"data": {"name": "pvals"}, "transform": [{"filter": "datum.panel === 'I'"}], "mark": {"type": "text", "fontSize": 7, "baseline": "bottom", "dy": -1, "color": "#222", "font": "Liberation Sans"}, "encoding": {"x": {"field": "g", "type": "nominal", "bandPosition": 1.125}, "y": {"field": "b", "type": "quantitative", "title": "ESTIMATEScore", "scale": {"domain": [-2500, 6170], "nice": false, "zero": false}, "axis": {"values": [-2000,0,2000,4000,6000], "format": "d"}}, "text": {"field": "p", "type": "nominal"}}}
  ]}]},
{"title": {"text": "L", "anchor": "start", "frame": "bounds", "font": "Liberation Sans", "fontSize": 11, "fontWeight": "bold", "dy": 26, "dx": -3},
 "vconcat": [{"title": {"text": "N classification", "offset": 6}, "width": 138, "height": 155,
  "encoding": {"x": {"field": "group", "type": "nominal", "title": null, "scale": {"domain": ["N0","N1","N2","N3"], "paddingInner": 0.2, "paddingOuter": 0.1}}},
  "layer": [
   {"data": {"name": "boxes"}, "transform": [{"filter": "datum.panel === 'L'"}], "layer": [
    {"mark": {"type": "rule", "strokeDash": [2, 1.5], "color": "#666", "strokeWidth": 0.8}, "encoding": {"y": {"field": "min", "type": "quantitative", "title": "ESTIMATEScore", "scale": {"domain": [-2180, 6160], "nice": false, "zero": false}, "axis": {"values": [-2000,0,2000,4000,6000], "format": "d"}}, "y2": {"field": "max"}}},
    {"mark": {"type": "tick", "size": 14, "thickness": 0.8, "color": "#444"}, "encoding": {"y": {"field": "min", "type": "quantitative", "title": "ESTIMATEScore", "scale": {"domain": [-2180, 6160], "nice": false, "zero": false}, "axis": {"values": [-2000,0,2000,4000,6000], "format": "d"}}}},
    {"mark": {"type": "tick", "size": 14, "thickness": 0.8, "color": "#444"}, "encoding": {"y": {"field": "max", "type": "quantitative", "title": "ESTIMATEScore", "scale": {"domain": [-2180, 6160], "nice": false, "zero": false}, "axis": {"values": [-2000,0,2000,4000,6000], "format": "d"}}}},
    {"mark": {"type": "bar", "stroke": "#333", "strokeWidth": 0.5}, "encoding": {"y": {"field": "q1", "type": "quantitative", "title": "ESTIMATEScore", "scale": {"domain": [-2180, 6160], "nice": false, "zero": false}, "axis": {"values": [-2000,0,2000,4000,6000], "format": "d"}}, "y2": {"field": "q3"}, "color": {"field": "group", "type": "nominal", "legend": null, "scale": {"domain": ["Stage I","Stage II","Stage III","Stage IV","T1","T2","T3","T4","M0","M1","N0","N1","N2","N3"], "range": ["#E52421","#3FAE3A","#1D4F9F","#6CC4D4","#E52421","#3FAE3A","#1D4F9F","#6CC4D4","#E52421","#3FAE3A","#E52421","#3FAE3A","#1D4F9F","#6CC4D4"]}}}},
    {"mark": {"type": "tick", "size": 27.6, "thickness": 1.5, "color": "#111"}, "encoding": {"y": {"field": "med", "type": "quantitative", "title": "ESTIMATEScore", "scale": {"domain": [-2180, 6160], "nice": false, "zero": false}, "axis": {"values": [-2000,0,2000,4000,6000], "format": "d"}}}}
   ]},
   {"data": {"name": "brackets"}, "transform": [{"filter": "datum.panel === 'L'"}], "mark": {"type": "line", "color": "#666", "strokeWidth": 0.8}, "encoding": {"y": {"field": "y", "type": "quantitative", "title": "ESTIMATEScore", "scale": {"domain": [-2180, 6160], "nice": false, "zero": false}, "axis": {"values": [-2000,0,2000,4000,6000], "format": "d"}}, "order": {"field": "k", "type": "quantitative"}}},
   {"data": {"name": "pvals"}, "transform": [{"filter": "datum.panel === 'L'"}], "mark": {"type": "text", "fontSize": 7, "baseline": "bottom", "dy": -1, "color": "#222", "font": "Liberation Sans"}, "encoding": {"x": {"field": "g", "type": "nominal", "bandPosition": 1.125}, "y": {"field": "b", "type": "quantitative", "title": "ESTIMATEScore", "scale": {"domain": [-2180, 6160], "nice": false, "zero": false}, "axis": {"values": [-2000,0,2000,4000,6000], "format": "d"}}, "text": {"field": "p", "type": "nominal"}}}
  ]}]}
 ]}
],
"config": {
 "font": "Liberation Sans",
 "view": {"stroke": "#777", "strokeWidth": 0.8},
 "axis": {"grid": false, "domain": false, "tickColor": "#555", "tickSize": 4, "tickWidth": 0.8, "labelFontSize": 6, "labelColor": "#333", "labelFont": "Liberation Sans", "titleFontSize": 6.5, "titleFontWeight": "normal", "titleColor": "#222", "titleFont": "Liberation Sans"},
 "axisY": {"labelAngle": 270, "labelAlign": "center", "labelBaseline": "bottom", "labelPadding": 2, "titlePadding": 3},
 "axisX": {"labelAngle": 0, "labelPadding": 2},
 "title": {"font": "Open Sans", "fontSize": 14, "fontWeight": "normal", "color": "#111"}
}
}
